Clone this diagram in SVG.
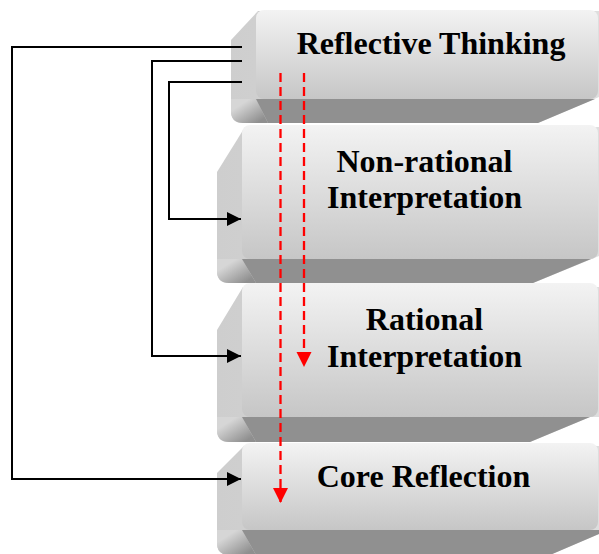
<svg xmlns="http://www.w3.org/2000/svg" width="599" height="554" viewBox="0 0 599 554">
<defs>
<linearGradient id="gFront" x1="0" y1="0" x2="0" y2="1">
<stop offset="0" stop-color="#f3f3f3"/>
<stop offset="1" stop-color="#c6c6c6"/>
</linearGradient>
<linearGradient id="gSide" x1="0" y1="0" x2="1" y2="0">
<stop offset="0" stop-color="#cecece"/>
<stop offset="1" stop-color="#dedede"/>
</linearGradient>
<linearGradient id="gCorner" x1="0" y1="0" x2="1" y2="1">
<stop offset="0.25" stop-color="#d6d6d6"/>
<stop offset="0.85" stop-color="#8f8f8f"/>
</linearGradient>
<marker id="ah" markerUnits="userSpaceOnUse" markerWidth="16" markerHeight="16" viewBox="0 0 16 16" refX="15" refY="8" orient="auto">
<path d="M1,1 L15,8 L1,15 Z" fill="#000"/>
</marker>
<marker id="ahr" markerUnits="userSpaceOnUse" markerWidth="16" markerHeight="16" viewBox="0 0 16 16" refX="15" refY="8" orient="auto">
<path d="M0,0.5 L15,8 L0,15.5 Z" fill="#ff0000"/>
</marker>
</defs>
<style>
.side{fill:url(#gSide)}
.corner{fill:url(#gCorner)}
.bottom{fill:#909090}
.front{fill:url(#gFront)}
.lbl{font-family:"Liberation Serif","Times New Roman",serif;font-weight:bold;font-size:32px;fill:#000;text-anchor:middle}
.conn{fill:none;stroke:#000;stroke-width:2}
.dash{fill:none;stroke:#ff0000;stroke-width:2.3;stroke-dasharray:9 5}
</style>

<g id="node-reflective-thinking">
<path class="side" d="M258,11 L231,40 L231,111 Q231,123 243,123 L538,123 L599,97 L599,11 Z"/>
<path class="corner" d="M231,99 L256,99 L268,123 L243,123 Q231,123 231,111 Z"/>
<polygon class="bottom" points="256,99 595,99 538,123 268,123"/>
<rect class="front" x="256" y="10" width="342" height="89" rx="8"/>
<text class="lbl" x="431" y="54">Reflective Thinking</text>
</g>

<g id="node-non-rational">
<path class="side" d="M245,127 L217,172 L217,271 Q217,283 229,283 L533,283 L599,256 L599,127 Z"/>
<path class="corner" d="M217,259 L242,259 L256,283 L229,283 Q217,283 217,271 Z"/>
<polygon class="bottom" points="242,259 591,259 533,283 256,283"/>
<rect class="front" x="242" y="125" width="356" height="134" rx="8"/>
<text class="lbl" x="424.5" y="172">Non-rational</text>
<text class="lbl" x="424.5" y="208">Interpretation</text>
</g>

<g id="node-rational">
<path class="side" d="M243,287 L217,330 L217,430 Q217,442 229,442 L530,442 L590,417 L599,417 L599,287 Z"/>
<path class="corner" d="M217,417 L242,417 L256,442 L229,442 Q217,442 217,430 Z"/>
<polygon class="bottom" points="242,417 590,417 530,442 256,442"/>
<rect class="front" x="242" y="283" width="356" height="134" rx="8"/>
<text class="lbl" x="424.5" y="330">Rational</text>
<text class="lbl" x="424.5" y="367">Interpretation</text>
</g>

<g id="node-core-reflection">
<path class="side" d="M244,446 L217,473 L217,543 Q217,555 229,555 L550,555 L599,534 L599,446 Z"/>
<path class="corner" d="M217,530 L242,530 L256,555 L229,555 Q217,555 217,543 Z"/>
<polygon class="bottom" points="242,530 599,530 599,534 550,555 256,555"/>
<rect class="front" x="242" y="443" width="356" height="87" rx="8"/>
<text class="lbl" x="423.5" y="487">Core Reflection</text>
</g>

<g id="connectors">
<path class="conn" d="M242,47 H12 V479 H241" marker-end="url(#ah)"/>
<path class="conn" d="M242,61 H152 V356 H241" marker-end="url(#ah)"/>
<path class="conn" d="M242,82 H169 V219 H241" marker-end="url(#ah)"/>
<path class="dash" d="M280.5,73 V503" marker-end="url(#ahr)"/>
<path class="dash" d="M304,73 V367" marker-end="url(#ahr)"/>
</g>
</svg>
